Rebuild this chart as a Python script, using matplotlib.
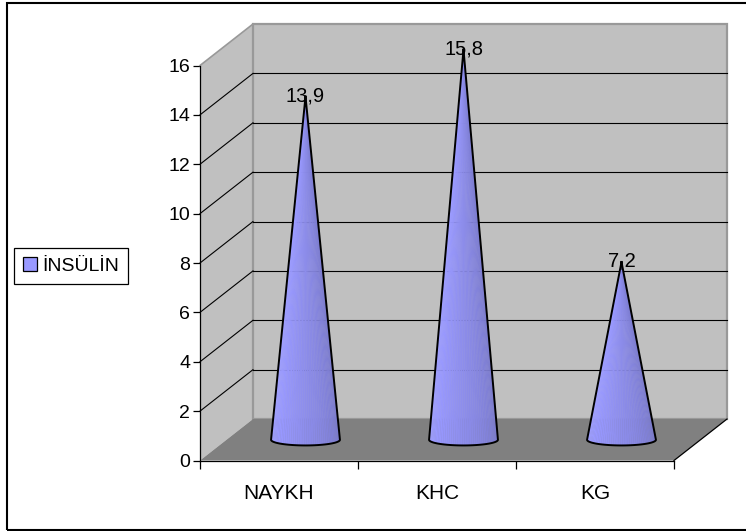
import numpy as np
import matplotlib
matplotlib.use("Agg")
import matplotlib.pyplot as plt
from matplotlib.patches import Polygon, Rectangle, Patch

categories = ["NAYKH", "KHC", "KG"]
values = [13.9, 15.8, 7.2]
series_name = "İNSÜLİN"
y_ticks = [0, 2, 4, 6, 8, 10, 12, 14, 16]

plt.rcParams["font.family"] = ["Liberation Sans", "DejaVu Sans"]
FS = 14

WALL = "#c0c0c0"
WALL_EDGE = "#999999"
FLOOR = "#808080"
CONE = np.array([0.6, 0.6, 1.0])

W, H = 746, 531
fig = plt.figure(figsize=(W / 100, H / 100), dpi=100)
ax = fig.add_axes([200 / W, 70.5 / H, 474 / W, 395 / H])
n = len(categories)
ymax = y_ticks[-1]
ax.set_xlim(0, n)
ax.set_ylim(0, ymax)

# oblique depth of the box, in data units
DX, DY = 53 / 158, 41.5 / 24.7

# walls and floor
ax.add_patch(Polygon([(0, 0), (0, ymax), (DX, ymax + DY), (DX, DY)],
                     closed=True, fc=WALL, ec="none", clip_on=False, zorder=1))
ax.add_patch(Rectangle((DX, DY), n, ymax, fc=WALL, ec=WALL_EDGE, lw=1.6,
                       clip_on=False, zorder=1))
ax.add_patch(Polygon([(0, 0), (n, 0), (n + DX, DY), (DX, DY)],
                     closed=True, fc=FLOOR, ec="none", clip_on=False, zorder=2))
ax.plot([0, DX], [ymax, ymax + DY], color=WALL_EDGE, lw=1.2, clip_on=False, zorder=2)
ax.plot([n, n + DX], [0, DY], color="black", lw=0.9, clip_on=False, zorder=3)

# gridlines on back wall and side wall
for t in y_ticks[1:-1]:
    ax.plot([DX, n + DX], [t + DY, t + DY], color="black", lw=0.8,
            clip_on=False, zorder=3)
    ax.plot([0, DX], [t, t + DY], color="black", lw=0.8, clip_on=False, zorder=3)

# cones
rx, ry = 0.218, 0.23
theta = np.linspace(np.pi, 2 * np.pi, 48)
for i, v in enumerate(values):
    cx = i + 0.5 + DX / 2
    cy = DY / 2
    top = v + DY / 2
    bx = cx + rx * np.cos(theta)
    by = cy + ry * np.sin(theta)
    for k in range(len(theta) - 1):
        t = (theta[k] - np.pi) / np.pi
        shade = 1.06 - 0.28 * t
        col = np.clip(CONE * shade, 0, 1)
        ax.add_patch(Polygon([(cx, top), (bx[k], by[k]), (bx[k + 1], by[k + 1])],
                             closed=True, fc=col, ec=col, lw=0.3,
                             clip_on=False, zorder=4))
    ax.plot(np.r_[cx, bx, cx], np.r_[top, by, top], color="black", lw=1.4,
            solid_joinstyle="miter", clip_on=False, zorder=5)
    ax.text(cx, top - 0.18, f"{v:.1f}".replace(".", ","), ha="center",
            va="baseline", fontsize=FS + 0.5, zorder=6)

# axes
for side in ("top", "right"):
    ax.spines[side].set_visible(False)
for side in ("left", "bottom"):
    ax.spines[side].set_linewidth(0.9)
    ax.spines[side].set_zorder(3)
ax.set_yticks(y_ticks)
ax.set_yticklabels([str(t) for t in y_ticks])
ax.tick_params(axis="y", direction="out", length=5, width=0.9, pad=2,
               labelsize=FS)
ax.set_xticks(np.arange(n + 1))
ax.set_xticklabels([])
ax.tick_params(axis="x", which="major", direction="out", length=6, width=0.9)
ax.set_xticks(np.arange(n) + 0.5, minor=True)
ax.set_xticklabels(categories, minor=True)
ax.tick_params(axis="x", which="minor", length=0, pad=17, labelsize=FS + 1)
ax.set_facecolor("none")

leg = ax.legend(handles=[Patch(fc=CONE, ec="black", lw=0.9, label=series_name)],
                loc="center left", bbox_to_anchor=(14 / W, 1 - 266 / H),
                bbox_transform=fig.transFigure, fontsize=FS, frameon=True,
                fancybox=False, edgecolor="black", framealpha=1,
                handlelength=0.75, handleheight=0.75, handletextpad=0.25,
                borderpad=0.45, borderaxespad=0)
leg.get_frame().set_linewidth(0.9)

# outer chart border
fig.add_artist(Rectangle((7 / W, 1 / H), 2, 527.3 / H, transform=fig.transFigure,
                         fill=False, ec="black", lw=1.5))

fig.savefig("out.png", dpi=100)
